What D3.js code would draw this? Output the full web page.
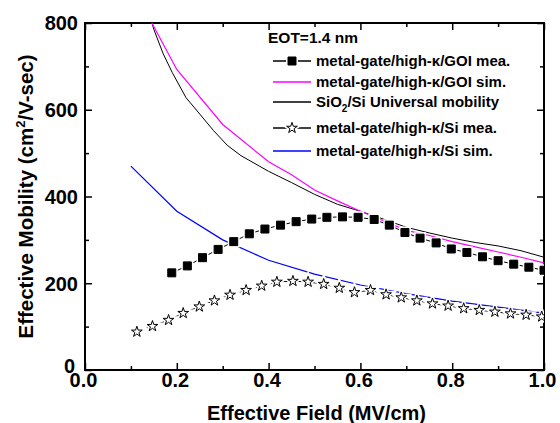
<!DOCTYPE html>
<html>
<head>
<meta charset="utf-8">
<script src="https://cdn.jsdelivr.net/npm/d3@7"></script>
<style>
  body { margin: 0; background: #fff; }
  svg text { font-family: "Liberation Sans", Arial, sans-serif; font-weight: bold; fill: #000; }
  .tick line { stroke: #000; stroke-width: 1.5; }
</style>
</head>
<body>
<svg id="chart"></svg>
<script>
/* SETUP */
var width = 560;
var height = 423;
var margin = {left: 85, right: 16, top: 23, bottom: 53};

/* DATA */
// metal-gate/high-k/GOI measured (squares)
var goiMeaField = [0.189, 0.223, 0.256, 0.290, 0.324, 0.358, 0.392, 0.426, 0.460, 0.494, 0.527, 0.561, 0.595,
                   0.630, 0.663, 0.697, 0.730, 0.765, 0.798, 0.832, 0.866, 0.900, 0.934, 0.967, 1.0];
var goiMeaMob = [224, 240, 259, 278, 296, 314, 325, 334, 342, 348, 352, 353, 352,
                 347, 334, 317, 304, 293, 279, 271, 261, 252, 244, 237, 230];

// metal-gate/high-k/GOI simulated
var goiSimField = [0.1, 0.2, 0.3, 0.4, 0.45, 0.5, 0.55, 0.6, 0.65, 0.7, 0.75, 0.8, 0.85, 0.9, 0.95, 1.0];
var goiSimMob = [890, 693, 566, 480, 450, 415, 390, 366, 344, 322, 310, 296, 284, 272, 260, 247];

// SiO2/Si universal mobility
var univField = [0.13, 0.15, 0.17, 0.19, 0.22, 0.25, 0.28, 0.31, 0.34, 0.4, 0.45, 0.5, 0.55, 0.6,
                 0.65, 0.7, 0.75, 0.8, 0.85, 0.9, 0.95, 1.0];
var univMob = [860, 785, 730, 686, 628, 590, 552, 518, 494, 458, 432, 405, 382, 366,
               348, 329, 316, 304, 294, 286, 275, 260];

// metal-gate/high-k/Si measured (stars)
var siMeaField = [0.113, 0.147, 0.182, 0.214, 0.249, 0.282, 0.316, 0.351, 0.385, 0.418, 0.453, 0.486, 0.520,
                  0.554, 0.587, 0.622, 0.656, 0.689, 0.723, 0.757, 0.791, 0.825, 0.859, 0.893, 0.927, 0.961, 0.995];
var siMeaMob = [88, 101, 115, 131, 146, 160, 173, 184, 194, 203, 205, 203, 198,
                189, 179, 184, 174, 167, 160, 153, 148, 142, 138, 134, 130, 127, 123];

// metal-gate/high-k/Si simulated
var siSimField = [0.1, 0.2, 0.3, 0.4, 0.5, 0.6, 0.7, 0.8, 0.9, 1.0];
var siSimMob = [470, 366, 300, 253, 221, 196, 176, 159, 145, 131];

var xMajor = [0.0, 0.2, 0.4, 0.6, 0.8, 1.0];
var xMinor = [0.1, 0.3, 0.5, 0.7, 0.9];
var yMajor = [0, 200, 400, 600, 800];
var yMinor = [100, 300, 500, 700];

var legendTitle = "EOT=1.4 nm";


/* DRAW */
var svg = d3.select("svg#chart")
    .attr("width", width)
    .attr("height", height);

var x = d3.scaleLinear().domain([0, 1]).range([margin.left, width - margin.right]);
var y = d3.scaleLinear().domain([0, 800]).range([height - margin.bottom, margin.top]);

var zip = (xs, ys) => xs.map((v, i) => [v, ys[i]]);

svg.append("defs").append("clipPath").attr("id", "plot-clip")
  .append("rect")
    .attr("x", x(0)).attr("y", y(800))
    .attr("width", x(1) - x(0)).attr("height", y(0) - y(800));

drawAxes();

var plot = svg.append("g").attr("clip-path", "url(#plot-clip)");

var line = d3.line().x(d => x(d[0])).y(d => y(d[1]));

plot.append("path").datum(zip(univField, univMob))
  .attr("d", line).attr("fill", "none").attr("stroke", "#000").attr("stroke-width", 1);
plot.append("path").datum(zip(goiSimField, goiSimMob))
  .attr("d", line).attr("fill", "none").attr("stroke", "#ff00ff").attr("stroke-width", 1.2);
plot.append("path").datum(zip(siSimField, siSimMob))
  .attr("d", line).attr("fill", "none").attr("stroke", "#0000ff").attr("stroke-width", 1.2);

drawMarkerSeries(plot, zip(goiMeaField, goiMeaMob), "square");
drawMarkerSeries(plot, zip(siMeaField, siMeaMob), "star");

drawLegend();


/* AXES */
function drawAxes() {
  var bottom = y(0), top = y(800), left = x(0), right = x(1);

  // major ticks, labelled on bottom / left
  svg.append("g").attr("transform", translate(0, bottom))
    .call(d3.axisBottom(x).tickValues(xMajor).tickFormat(d3.format(".1f"))
      .tickSize(-7).tickSizeOuter(0).tickPadding(3))
    .call(g => g.select(".domain").remove())
    .selectAll("text")
      .attr("font-size", 20).attr("dx", -2);

  svg.append("g").attr("transform", translate(left, 0))
    .call(d3.axisLeft(y).tickValues(yMajor).tickFormat(d3.format("d"))
      .tickSize(-7).tickSizeOuter(0).tickPadding(7))
    .call(g => g.select(".domain").remove())
    .selectAll("text")
      .attr("font-size", 20)
      .attr("dx", d => d === 0 ? -3 : 0)
      .attr("dy", d => d === 0 ? "0.1em" : "0.34em");

  // minor ticks
  svg.append("g").attr("transform", translate(0, bottom))
    .call(d3.axisBottom(x).tickValues(xMinor).tickFormat("").tickSize(-4).tickSizeOuter(0))
    .call(g => g.select(".domain").remove());
  svg.append("g").attr("transform", translate(left, 0))
    .call(d3.axisLeft(y).tickValues(yMinor).tickFormat("").tickSize(-4).tickSizeOuter(0))
    .call(g => g.select(".domain").remove());

  // mirrored ticks on top / right
  svg.append("g").attr("transform", translate(0, top))
    .call(d3.axisTop(x).tickValues(xMajor).tickFormat("").tickSize(-7).tickSizeOuter(0))
    .call(g => g.select(".domain").remove());
  svg.append("g").attr("transform", translate(0, top))
    .call(d3.axisTop(x).tickValues(xMinor).tickFormat("").tickSize(-4).tickSizeOuter(0))
    .call(g => g.select(".domain").remove());
  svg.append("g").attr("transform", translate(right, 0))
    .call(d3.axisRight(y).tickValues(yMajor).tickFormat("").tickSize(-7).tickSizeOuter(0))
    .call(g => g.select(".domain").remove());
  svg.append("g").attr("transform", translate(right, 0))
    .call(d3.axisRight(y).tickValues(yMinor).tickFormat("").tickSize(-4).tickSizeOuter(0))
    .call(g => g.select(".domain").remove());

  // frame
  svg.append("rect")
    .attr("x", left).attr("y", top)
    .attr("width", right - left).attr("height", bottom - top)
    .attr("fill", "none").attr("stroke", "#000").attr("stroke-width", 2);

  // axis titles
  svg.append("text")
    .attr("x", (left + right) / 2 + 2).attr("y", 420)
    .attr("text-anchor", "middle").attr("font-size", 20)
    .text("Effective Field (MV/cm)");

  var yt = svg.append("text")
    .attr("transform", translate(33, (top + bottom) / 2) + " rotate(-90)")
    .attr("text-anchor", "middle").attr("font-size", 20.5);
  yt.append("tspan").text("Effective Mobility (cm");
  yt.append("tspan").attr("dy", -8).attr("font-size", 13).text("2");
  yt.append("tspan").attr("dy", 8).text("/V-sec)");
}


/* MARKERS */
function symbolPath(kind) {
  if (kind === "square") return d3.symbol(d3.symbolSquare, 64)();
  return d3.symbol(d3.symbolStar, 36)();
}

function drawMarkerSeries(g, data, kind) {
  g.append("path").datum(data)
    .attr("d", line).attr("fill", "none").attr("stroke", "#000").attr("stroke-width", 1);

  // white halo so the line breaks before each symbol
  g.selectAll(null).data(data).enter().append("path")
    .attr("d", symbolPath(kind))
    .attr("transform", d => translate(x(d[0]), y(d[1])))
    .attr("fill", "#fff").attr("stroke", "#fff").attr("stroke-width", 4);

  g.selectAll(null).data(data).enter().append("path")
    .attr("d", symbolPath(kind))
    .attr("transform", d => translate(x(d[0]), y(d[1])))
    .attr("fill", kind === "square" ? "#000" : "#fff")
    .attr("stroke", "#000").attr("stroke-width", 1);
}


/* LEGEND */
function drawLegend() {
  var lg = svg.append("g").attr("id", "legend");
  var x0 = 273, x1 = 311, tx = 316;

  lg.append("text").attr("x", 268).attr("y", 42.5).attr("font-size", 15.5).text(legendTitle);

  var rows = [
    {y: 61, color: "#000", marker: "square", label: "metal-gate/high-κ/GOI mea."},
    {y: 82, color: "#ff00ff", marker: null, label: "metal-gate/high-κ/GOI sim."},
    {y: 102, color: "#000", marker: null, label: null},
    {y: 128, color: "#000", marker: "star", label: "metal-gate/high-κ/Si mea."},
    {y: 151, color: "#0000ff", marker: null, label: "metal-gate/high-κ/Si sim."}
  ];

  rows.forEach(function(r) {
    lg.append("line")
      .attr("x1", x0).attr("x2", x1).attr("y1", r.y).attr("y2", r.y)
      .attr("stroke", r.color).attr("stroke-width", 1.4);
    if (r.marker) {
      var cx = (x0 + x1) / 2;
      lg.append("path").attr("d", symbolPath(r.marker))
        .attr("transform", translate(cx, r.y))
        .attr("fill", "#fff").attr("stroke", "#fff").attr("stroke-width", 4);
      lg.append("path").attr("d", symbolPath(r.marker))
        .attr("transform", translate(cx, r.y))
        .attr("fill", r.marker === "square" ? "#000" : "#fff")
        .attr("stroke", "#000").attr("stroke-width", 1);
    }
    var t = lg.append("text").attr("x", tx).attr("y", r.y + 5).attr("font-size", 15);
    if (r.label) {
      t.text(r.label);
    } else {
      t.append("tspan").text("SiO");
      t.append("tspan").attr("dy", 5).attr("font-size", 10).text("2");
      t.append("tspan").attr("dy", -5).text("/Si Universal mobility");
    }
  });
}


/* HELPER FUNCTION */
function translate(x, y) {
  return 'translate(' + String(x) + ',' + String(y) + ')';
}
</script>
</body>
</html>
